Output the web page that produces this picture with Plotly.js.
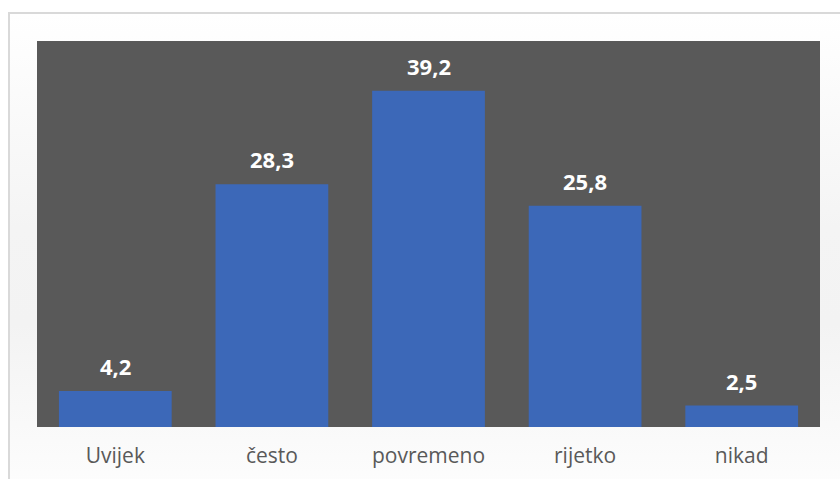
<!DOCTYPE html>
<html>
<head>
<meta charset="utf-8">
<script src="https://cdn.plot.ly/plotly-3.0.1.min.js"></script>
<style>
html,body{margin:0;padding:0;background:#ffffff;}
#wrap{position:relative;width:840px;height:479px;overflow:hidden;background:#ffffff;}
#frame{position:absolute;left:8px;top:12px;width:840px;height:480px;border:2px solid #d9d9d9;box-sizing:border-box;
background:linear-gradient(180deg,#ffffff 0%,#f4f4f4 45%,#f3f3f3 65%,#fdfdfd 100%);}
#chart{position:absolute;left:0;top:0;width:840px;height:479px;}
</style>
</head>
<body>
<div id="wrap">
<div id="frame"></div>
<div id="chart"></div>
</div>
<script>
const categories = ["Uvijek", "često", "povremeno", "rijetko", "nikad"];
const values = [4.2, 28.3, 39.2, 25.8, 2.5];
const valueLabels = ["4,2", "28,3", "39,2", "25,8", "2,5"];

const trace = {
  type: "bar",
  x: categories,
  y: values,
  marker: {color: "#3c68b8", line: {width: 0}},
  hoverinfo: "x+y"
};

const annotations = categories.map((c, i) => ({
  x: c, y: values[i], xref: "x", yref: "y",
  text: "<b>" + valueLabels[i] + "</b>",
  showarrow: false, yanchor: "bottom", yshift: 8,
  font: {family: "Open Sans, sans-serif", size: 22, color: "#ffffff"}
}));

const layout = {
  width: 840, height: 479,
  margin: {l: 37, r: 20, t: 41, b: 52},
  paper_bgcolor: "rgba(0,0,0,0)",
  plot_bgcolor: "#595959",
  bargap: 0.28,
  showlegend: false,
  xaxis: {
    showgrid: false, zeroline: false, showline: false,
    ticks: "", ticklen: 0, ticklabelstandoff: 14,
    tickfont: {family: "Open Sans, sans-serif", size: 21, color: "#595959"}
  },
  yaxis: {
    range: [0, 45], visible: false, showgrid: false, zeroline: false
  },
  annotations: annotations
};

Plotly.newPlot("chart", [trace], layout, {displayModeBar: false, staticPlot: true});
</script>
</body>
</html>
